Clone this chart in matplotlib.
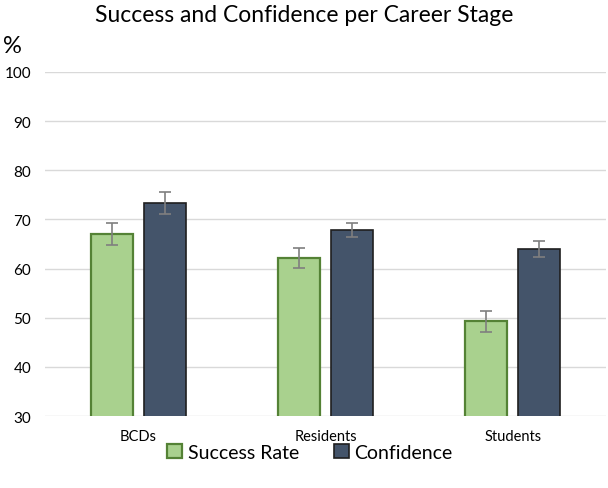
import numpy as np
import matplotlib.pyplot as plt

plt.rcParams['font.family'] = ['Lato', 'DejaVu Sans']

stages = ["BCDs", "Residents", "Students"]
success = [67.0, 62.2, 49.3]
success_err = [2.2, 2.0, 2.1]
confidence = [73.3, 67.9, 64.0]
confidence_err = [2.3, 1.45, 1.6]
yticks = [30, 40, 50, 60, 70, 80, 90, 100]

fig = plt.figure(figsize=(6.08, 4.89), dpi=100)
ax = fig.add_axes([0.074, 0.147, 0.923, 0.704])

x = np.arange(len(stages))
w = 0.225
off = 0.143

errstyle = dict(ecolor="#7f7f7f", elinewidth=1.2, capsize=4, capthick=1.2)
ax.bar(x - off, success, w, yerr=success_err, color="#a9d18e",
       edgecolor="#548235", linewidth=1.6, label="Success Rate",
       error_kw=errstyle, zorder=3)
ax.bar(x + off, confidence, w, yerr=confidence_err, color="#44546a",
       edgecolor="#1f1f1f", linewidth=1.2, label="Confidence",
       error_kw=errstyle, zorder=3)

ax.set_xlim(-0.5, 2.5)
ax.set_ylim(30, 100)
ax.set_yticks(yticks)
ax.set_xticks(x)
ax.set_xticklabels(stages, fontsize=10.5)
ax.tick_params(axis="y", labelsize=11, length=0, pad=10)
ax.tick_params(axis="x", length=0, pad=9)
ax.grid(axis="y", color="#d9d9d9", linewidth=1, zorder=0)
for s in ax.spines.values():
    s.set_visible(False)

fig.text(0.5, 0.968, "Success and Confidence per Career Stage",
         ha="center", va="center", fontsize=16.5)
fig.text(0.005, 0.905, "%", ha="left", va="center", fontsize=17)

fig.legend(loc="center", bbox_to_anchor=(0.51, 0.073), ncol=2, frameon=False,
           fontsize=14, handlelength=0.75, handleheight=0.75,
           handletextpad=0.3, columnspacing=1.8)

fig.savefig("out.png", dpi=100)
